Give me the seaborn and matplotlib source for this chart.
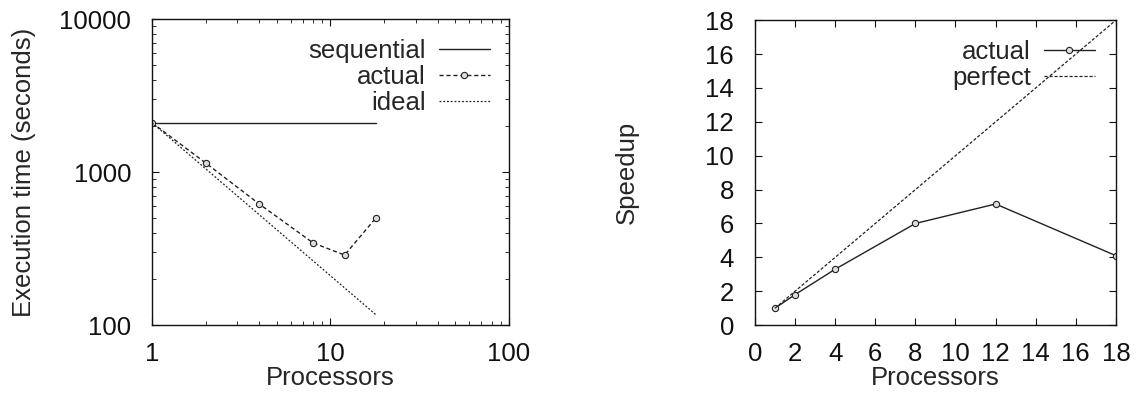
import matplotlib
matplotlib.use("Agg")
import matplotlib.pyplot as plt
import seaborn as sns
import pandas as pd
import numpy as np
from matplotlib.ticker import LogLocator, FixedLocator, NullFormatter, FixedFormatter

processors = [1, 2, 4, 8, 12, 18]
sequential_time = [2100, 2100]
sequential_procs = [1, 18]
actual_time = [2100, 1145, 617, 344, 287, 503]
ideal_time = [2100, 1050, 525, 262.5, 175, 116.7]
actual_speedup = [1.0, 1.8, 3.3, 6.0, 7.15, 4.1]
perfect_procs = [1, 18]
perfect_speedup = [1, 18]

sns.set_style("ticks")
FS = 18.5
plt.rcParams['font.family'] = ['Liberation Sans', 'DejaVu Sans']
plt.rcParams['font.size'] = FS
plt.rcParams['axes.linewidth'] = 1.0

fig = plt.figure(figsize=(11.43, 3.96), dpi=100)
ax1 = fig.add_axes([0.133, 0.179, 0.3123, 0.773])
ax2 = fig.add_axes([0.6605, 0.179, 0.3158, 0.770])

col = "#222222"
# Left plot
sns.lineplot(x=sequential_procs, y=sequential_time, ax=ax1, color=col, lw=1.0,
             label="sequential")
sns.lineplot(x=processors, y=actual_time, ax=ax1, color=col, lw=1.0,
             linestyle=(0, (3, 2)), marker="o", markersize=4.5,
             markerfacecolor="#dddddd", markeredgecolor=col, markeredgewidth=0.8,
             label="actual")
sns.lineplot(x=processors, y=ideal_time, ax=ax1, color=col, lw=0.9,
             linestyle=(0, (1.5, 1.5)), label="ideal")
ax1.set_xscale("log")
ax1.set_yscale("log")
ax1.set_xlim(1, 100)
ax1.set_ylim(100, 10000)
ax1.xaxis.set_major_locator(FixedLocator([1, 10, 100]))
ax1.xaxis.set_major_formatter(FixedFormatter(["1", "10", "100"]))
ax1.yaxis.set_major_locator(FixedLocator([100, 1000, 10000]))
ax1.yaxis.set_major_formatter(FixedFormatter(["100", "1000", "10000"]))
ax1.xaxis.set_minor_locator(LogLocator(base=10, subs=np.arange(2, 10)))
ax1.yaxis.set_minor_locator(LogLocator(base=10, subs=np.arange(2, 10)))
ax1.xaxis.set_minor_formatter(NullFormatter())
ax1.yaxis.set_minor_formatter(NullFormatter())
ax1.set_xlabel("Processors", labelpad=0)
ax1.set_ylabel("Execution time (seconds)", labelpad=17)
ax1.legend(loc="upper right", frameon=False, markerfirst=False,
           bbox_to_anchor=(0.947, 0.935), handlelength=2.0, labelspacing=0.08,
           handletextpad=0.5, borderaxespad=0, borderpad=0)

# Right plot
sns.lineplot(x=processors, y=actual_speedup, ax=ax2, color=col, lw=1.0,
             marker="o", markersize=4.5, markerfacecolor="#dddddd",
             markeredgecolor=col, markeredgewidth=0.8, label="actual")
sns.lineplot(x=perfect_procs, y=perfect_speedup, ax=ax2, color=col, lw=0.9,
             linestyle=(0, (2.5, 1.5)), label="perfect")
ax2.set_xlim(0, 18)
ax2.set_ylim(0, 18)
ax2.set_xticks(np.arange(0, 19, 2))
ax2.set_yticks(np.arange(0, 19, 2))
ax2.set_xlabel("Processors", labelpad=0)
ax2.set_ylabel("Speedup", labelpad=48)
ax2.legend(loc="upper right", frameon=False, markerfirst=False,
           bbox_to_anchor=(0.942, 0.935), handlelength=2.0, labelspacing=0.08,
           handletextpad=0.5, borderaxespad=0, borderpad=0)

for ax in (ax1, ax2):
    for s in ax.spines.values():
        s.set_visible(True)
        s.set_color("#111111")
    ax.tick_params(which="both", direction="in", top=True, right=True,
                   labelsize=FS, colors="#111111")
    ax.tick_params(axis="x", which="both", pad=12)
    ax.tick_params(axis="y", which="both", pad=15)
    ax.tick_params(which="major", length=5, width=0.8)
    ax.tick_params(which="minor", length=3, width=0.6)

fig.savefig("out.png", dpi=100)
